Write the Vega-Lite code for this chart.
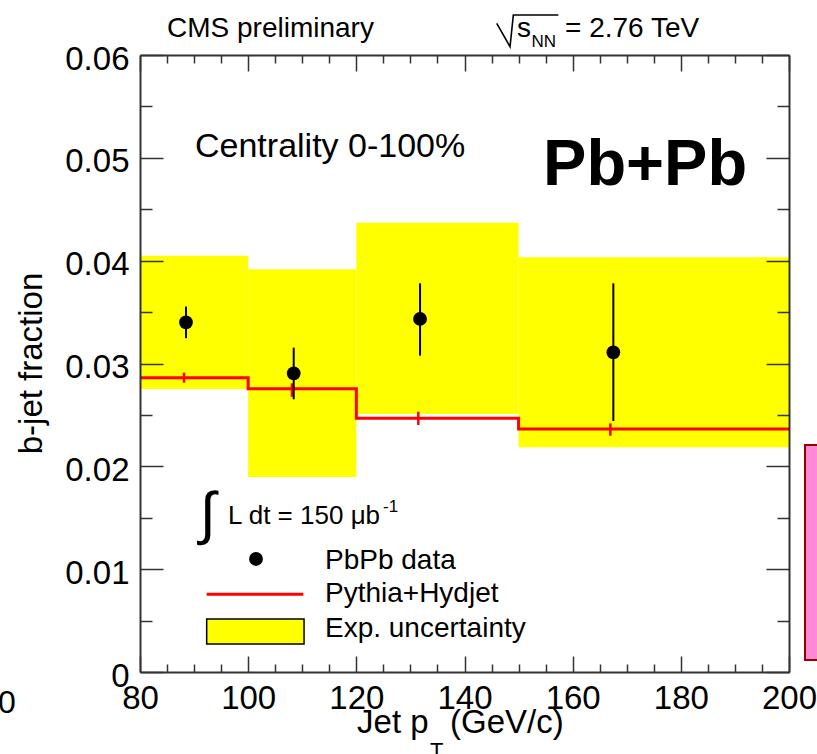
{
  "$schema": "https://vega.github.io/schema/vega-lite/v6.json",
  "width": 649,
  "height": 617,
  "autosize": {"type": "none"},
  "padding": {"left": 140, "top": 55, "right": 28, "bottom": 82},
  "background": "white",
  "config": {"view": {"stroke": null}, "font": "Liberation Sans", "text": {"font": "Liberation Sans", "color": "#000"}},
  "resolve": {"axis": {"x": "independent", "y": "independent"}},
  "datasets": {
    "bins": [
      {"x": 80, "x2": 100, "lo": 0.02752, "hi": 0.04048},
      {"x": 100, "x2": 120, "lo": 0.01896, "hi": 0.03916},
      {"x": 120, "x2": 150, "lo": 0.02509, "hi": 0.04369},
      {"x": 150, "x2": 200, "lo": 0.02185, "hi": 0.04033}
    ],
    "mc": [
      {"x": 80, "y": 0.02862},
      {"x": 100, "y": 0.02755},
      {"x": 120, "y": 0.02467},
      {"x": 150, "y": 0.02363},
      {"x": 200, "y": 0.02363}
    ],
    "mcerr": [
      {"x": 88.14, "lo": 0.02813, "hi": 0.02911},
      {"x": 108.1, "lo": 0.02677, "hi": 0.02807},
      {"x": 131.46, "lo": 0.02402, "hi": 0.02531},
      {"x": 166.97, "lo": 0.02298, "hi": 0.02418}
    ],
    "pts": [
      {"x": 88.5, "y": 0.034, "lo": 0.03246, "hi": 0.03554},
      {"x": 108.42, "y": 0.02905, "lo": 0.02652, "hi": 0.03154},
      {"x": 131.78, "y": 0.03433, "lo": 0.03076, "hi": 0.0378},
      {"x": 167.52, "y": 0.03109, "lo": 0.02441, "hi": 0.0378}
    ]
  },
  "layer": [
    {
      "data": {"name": "bins"},
      "mark": {"type": "rect", "color": "#ffff00"},
      "encoding": {
        "x": {"field": "x", "type": "quantitative", "scale": {"domain": [80, 200], "nice": false, "zero": false},
          "axis": {"orient": "bottom", "values": [80, 100, 120, 140, 160, 180, 200], "format": "d", "ticks": false, "labels": true, "domain": true, "domainColor": "#333", "domainWidth": 2, "labelFont": "Liberation Sans", "labelFontSize": 33, "labelColor": "#000", "labelPadding": 10, "labelFlush": false, "labelOverlap": false, "grid": false, "title": null, "zindex": 1}},
        "x2": {"field": "x2"},
        "y": {"field": "lo", "type": "quantitative", "scale": {"domain": [0, 0.06], "nice": false, "zero": false},
          "axis": {"orient": "left", "values": [0, 0.01, 0.02, 0.03, 0.04, 0.05, 0.06], "format": "~g", "ticks": false, "labels": true, "domain": true, "domainColor": "#333", "domainWidth": 2, "labelFont": "Liberation Sans", "labelFontSize": 33, "labelColor": "#000", "labelPadding": 11, "labelOffset": 4, "labelFlush": false, "labelOverlap": false, "grid": false, "title": null, "zindex": 1}},
        "y2": {"field": "hi"}
      }
    },
    {
      "data": {"name": "mc"},
      "mark": {"type": "line", "interpolate": "step-after", "color": "#ff0000", "strokeWidth": 3},
      "encoding": {
        "x": {"field": "x", "type": "quantitative", "scale": {"domain": [80, 200], "nice": false, "zero": false},
          "axis": {"orient": "bottom", "values": [80, 100, 120, 140, 160, 180, 200], "ticks": true, "tickSize": -16, "tickColor": "#333", "tickWidth": 1.5, "labels": false, "domain": false, "grid": false, "title": null, "zindex": 1}},
        "y": {"field": "y", "type": "quantitative", "scale": {"domain": [0, 0.06], "nice": false, "zero": false},
          "axis": {"orient": "left", "values": [0, 0.01, 0.02, 0.03, 0.04, 0.05, 0.06], "ticks": true, "tickSize": -23, "tickColor": "#333", "tickWidth": 1.5, "labels": false, "domain": false, "grid": false, "title": null, "zindex": 1}}
      }
    },
    {
      "data": {"name": "mcerr"},
      "mark": {"type": "rule", "color": "#ff0000", "strokeWidth": 2.5},
      "encoding": {
        "x": {"field": "x", "type": "quantitative", "scale": {"domain": [80, 200], "nice": false, "zero": false},
          "axis": {"orient": "bottom", "values": [85, 90, 95, 105, 110, 115, 125, 130, 135, 145, 150, 155, 165, 170, 175, 185, 190, 195], "ticks": true, "tickSize": -8, "tickColor": "#333", "tickWidth": 1.5, "labels": false, "domain": false, "grid": false, "title": null, "zindex": 1}},
        "y": {"field": "lo", "type": "quantitative", "scale": {"domain": [0, 0.06], "nice": false, "zero": false},
          "axis": {"orient": "left", "values": [0.005, 0.015, 0.025, 0.035, 0.045, 0.055], "ticks": true, "tickSize": -12, "tickColor": "#333", "tickWidth": 1.5, "labels": false, "domain": false, "grid": false, "title": null, "zindex": 1}},
        "y2": {"field": "hi"}
      }
    },
    {
      "data": {"name": "pts"},
      "mark": {"type": "rule", "color": "#000", "strokeWidth": 2},
      "encoding": {
        "x": {"field": "x", "type": "quantitative", "scale": {"domain": [80, 200], "nice": false, "zero": false},
          "axis": {"orient": "top", "values": [80, 100, 120, 140, 160, 180, 200], "ticks": true, "tickSize": -16, "tickColor": "#333", "tickWidth": 1.5, "labels": false, "domain": true, "domainColor": "#333", "domainWidth": 2, "grid": false, "title": null, "zindex": 1}},
        "y": {"field": "lo", "type": "quantitative", "scale": {"domain": [0, 0.06], "nice": false, "zero": false},
          "axis": {"orient": "right", "values": [0, 0.01, 0.02, 0.03, 0.04, 0.05, 0.06], "ticks": true, "tickSize": -23, "tickColor": "#333", "tickWidth": 1.5, "labels": false, "domain": true, "domainColor": "#333", "domainWidth": 2, "grid": false, "title": null, "zindex": 1}},
        "y2": {"field": "hi"}
      }
    },
    {
      "data": {"name": "pts"},
      "mark": {"type": "circle", "color": "#000", "opacity": 1, "size": 190},
      "encoding": {
        "x": {"field": "x", "type": "quantitative", "scale": {"domain": [80, 200], "nice": false, "zero": false},
          "axis": {"orient": "top", "values": [85, 90, 95, 105, 110, 115, 125, 130, 135, 145, 150, 155, 165, 170, 175, 185, 190, 195], "ticks": true, "tickSize": -8, "tickColor": "#333", "tickWidth": 1.5, "labels": false, "domain": false, "grid": false, "title": null, "zindex": 1}},
        "y": {"field": "y", "type": "quantitative", "scale": {"domain": [0, 0.06], "nice": false, "zero": false},
          "axis": {"orient": "right", "values": [0.005, 0.015, 0.025, 0.035, 0.045, 0.055], "ticks": true, "tickSize": -12, "tickColor": "#333", "tickWidth": 1.5, "labels": false, "domain": false, "grid": false, "title": null, "zindex": 1}}
      }
    },
    {
      "data": {"values": [{"x": 202.96, "x2": 206, "lo": 0.001167, "hi": 0.022075}]},
      "mark": {"type": "rect", "fill": "#ff88d8", "stroke": "#990000", "strokeWidth": 2},
      "encoding": {
        "x": {"field": "x", "type": "quantitative", "scale": {"domain": [80, 200], "nice": false, "zero": false}, "axis": null},
        "x2": {"field": "x2"},
        "y": {"field": "lo", "type": "quantitative", "scale": {"domain": [0, 0.06], "nice": false, "zero": false}, "axis": null},
        "y2": {"field": "hi"}
      }
    },
    {
      "data": {"values": [{"x": 92.33, "x2": 110.33, "lo": 0.00272, "hi": 0.00515}]},
      "mark": {"type": "rect", "fill": "#ffff00", "stroke": "#000", "strokeWidth": 1.5},
      "encoding": {
        "x": {"field": "x", "type": "quantitative", "scale": {"domain": [80, 200], "nice": false, "zero": false}, "axis": null},
        "x2": {"field": "x2"},
        "y": {"field": "lo", "type": "quantitative", "scale": {"domain": [0, 0.06], "nice": false, "zero": false}, "axis": null},
        "y2": {"field": "hi"}
      }
    },
    {
      "data": {"values": [{"x": 92.33, "x2": 110.2, "y": 0.00757}]},
      "mark": {"type": "rule", "color": "#ff0000", "strokeWidth": 3},
      "encoding": {
        "x": {"field": "x", "type": "quantitative", "scale": {"domain": [80, 200], "nice": false, "zero": false}, "axis": null},
        "x2": {"field": "x2"},
        "y": {"field": "y", "type": "quantitative", "scale": {"domain": [0, 0.06], "nice": false, "zero": false}, "axis": null}
      }
    },
    {
      "data": {"values": [{"x": 101.45, "y": 0.01099}]},
      "mark": {"type": "circle", "color": "#000", "opacity": 1, "size": 190},
      "encoding": {
        "x": {"field": "x", "type": "quantitative", "scale": {"domain": [80, 200], "nice": false, "zero": false}, "axis": null},
        "y": {"field": "y", "type": "quantitative", "scale": {"domain": [0, 0.06], "nice": false, "zero": false}, "axis": null}
      }
    },
    {
      "data": {"values": [
        {"x": 145.96, "y": 0.063084, "o": 1},
        {"x": 148.42, "y": 0.060809, "o": 2},
        {"x": 149.03, "y": 0.063892, "o": 3},
        {"x": 157.35, "y": 0.063892, "o": 4}
      ]},
      "mark": {"type": "line", "color": "#000", "strokeWidth": 1.6},
      "encoding": {
        "x": {"field": "x", "type": "quantitative", "scale": {"domain": [80, 200], "nice": false, "zero": false}, "axis": null},
        "y": {"field": "y", "type": "quantitative", "scale": {"domain": [0, 0.06], "nice": false, "zero": false}, "axis": null},
        "order": {"field": "o"}
      }
    },
    {
      "data": {"values": [
        {"x": 84.99, "y": 0.06175, "t": "CMS preliminary"},
        {"x": 149.71, "y": 0.061723, "t": "s"},
        {"x": 158.59, "y": 0.061723, "t": "= 2.76 TeV"}
      ]},
      "mark": {"type": "text", "align": "left", "baseline": "alphabetic", "fontSize": 28, "font": "Liberation Sans"},
      "encoding": {
        "x": {"field": "x", "type": "quantitative", "scale": {"domain": [80, 200], "nice": false, "zero": false}, "axis": null},
        "y": {"field": "y", "type": "quantitative", "scale": {"domain": [0, 0.06], "nice": false, "zero": false}, "axis": null},
        "text": {"field": "t"}
      }
    },
    {
      "data": {"values": [
        {"x": 152.4, "y": 0.060809, "t": "NN"},
        {"x": 124.95, "y": 0.015589, "t": "-1"}
      ]},
      "mark": {"type": "text", "align": "left", "baseline": "alphabetic", "fontSize": 17, "font": "Liberation Sans"},
      "encoding": {
        "x": {"field": "x", "type": "quantitative", "scale": {"domain": [80, 200], "nice": false, "zero": false}, "axis": null},
        "y": {"field": "y", "type": "quantitative", "scale": {"domain": [0, 0.06], "nice": false, "zero": false}, "axis": null},
        "text": {"field": "t"}
      }
    },
    {
      "data": {"values": [{"x": 90.17, "y": 0.050083, "t": "Centrality 0-100%"}]},
      "mark": {"type": "text", "align": "left", "baseline": "alphabetic", "fontSize": 34, "font": "Liberation Sans"},
      "encoding": {
        "x": {"field": "x", "type": "quantitative", "scale": {"domain": [80, 200], "nice": false, "zero": false}, "axis": null},
        "y": {"field": "y", "type": "quantitative", "scale": {"domain": [0, 0.06], "nice": false, "zero": false}, "axis": null},
        "text": {"field": "t"}
      }
    },
    {
      "data": {"values": [{"x": 154.52, "y": 0.04736, "t": "Pb+Pb"}]},
      "mark": {"type": "text", "align": "left", "baseline": "alphabetic", "fontSize": 65, "fontWeight": "bold", "font": "Liberation Sans"},
      "encoding": {
        "x": {"field": "x", "type": "quantitative", "scale": {"domain": [80, 200], "nice": false, "zero": false}, "axis": null},
        "y": {"field": "y", "type": "quantitative", "scale": {"domain": [0, 0.06], "nice": false, "zero": false}, "axis": null},
        "text": {"field": "t"}
      }
    },
    {
      "data": {"values": [{"x": 91.09, "y": 0.01352, "t": "∫"}]},
      "mark": {"type": "text", "align": "left", "baseline": "alphabetic", "fontSize": 58, "font": "Liberation Sans"},
      "encoding": {
        "x": {"field": "x", "type": "quantitative", "scale": {"domain": [80, 200], "nice": false, "zero": false}, "axis": null},
        "y": {"field": "y", "type": "quantitative", "scale": {"domain": [0, 0.06], "nice": false, "zero": false}, "axis": null},
        "text": {"field": "t"}
      }
    },
    {
      "data": {"values": [{"x": 96.27, "y": 0.014393, "t": "L dt = 150 μb"}]},
      "mark": {"type": "text", "align": "left", "baseline": "alphabetic", "fontSize": 26, "font": "Liberation Sans"},
      "encoding": {
        "x": {"field": "x", "type": "quantitative", "scale": {"domain": [80, 200], "nice": false, "zero": false}, "axis": null},
        "y": {"field": "y", "type": "quantitative", "scale": {"domain": [0, 0.06], "nice": false, "zero": false}, "axis": null},
        "text": {"field": "t"}
      }
    },
    {
      "data": {"values": [
        {"x": 114.2, "y": 0.00999, "t": "PbPb data"},
        {"x": 114.2, "y": 0.00684, "t": "Pythia+Hydjet"},
        {"x": 114.2, "y": 0.00337, "t": "Exp. uncertainty"}
      ]},
      "mark": {"type": "text", "align": "left", "baseline": "alphabetic", "fontSize": 28, "font": "Liberation Sans"},
      "encoding": {
        "x": {"field": "x", "type": "quantitative", "scale": {"domain": [80, 200], "nice": false, "zero": false}, "axis": null},
        "y": {"field": "y", "type": "quantitative", "scale": {"domain": [0, 0.06], "nice": false, "zero": false}, "axis": null},
        "text": {"field": "t"}
      }
    },
    {
      "data": {"values": [
        {"x": 120.13, "y": -0.005932, "t": "Jet p"},
        {"x": 137.32, "y": -0.005932, "t": "(GeV/c)"}
      ]},
      "mark": {"type": "text", "align": "left", "baseline": "alphabetic", "fontSize": 33, "font": "Liberation Sans"},
      "encoding": {
        "x": {"field": "x", "type": "quantitative", "scale": {"domain": [80, 200], "nice": false, "zero": false}, "axis": null},
        "y": {"field": "y", "type": "quantitative", "scale": {"domain": [0, 0.06], "nice": false, "zero": false}, "axis": null},
        "text": {"field": "t"}
      }
    },
    {
      "data": {"values": [{"x": 133.62, "y": -0.008363, "t": "T"}]},
      "mark": {"type": "text", "align": "left", "baseline": "alphabetic", "fontSize": 22, "font": "Liberation Sans"},
      "encoding": {
        "x": {"field": "x", "type": "quantitative", "scale": {"domain": [80, 200], "nice": false, "zero": false}, "axis": null},
        "y": {"field": "y", "type": "quantitative", "scale": {"domain": [0, 0.06], "nice": false, "zero": false}, "axis": null},
        "text": {"field": "t"}
      }
    },
    {
      "data": {"values": [{"x": 61.88, "y": 0.03, "t": "b-jet fraction"}]},
      "mark": {"type": "text", "align": "center", "baseline": "alphabetic", "angle": 270, "fontSize": 33, "font": "Liberation Sans"},
      "encoding": {
        "x": {"field": "x", "type": "quantitative", "scale": {"domain": [80, 200], "nice": false, "zero": false}, "axis": null},
        "y": {"field": "y", "type": "quantitative", "scale": {"domain": [0, 0.06], "nice": false, "zero": false}, "axis": null},
        "text": {"field": "t"}
      }
    },
    {
      "data": {"values": [{"x": 55.41, "y": -0.003987, "t": "0"}]},
      "mark": {"type": "text", "align": "center", "baseline": "alphabetic", "fontSize": 32, "font": "Liberation Sans"},
      "encoding": {
        "x": {"field": "x", "type": "quantitative", "scale": {"domain": [80, 200], "nice": false, "zero": false}, "axis": null},
        "y": {"field": "y", "type": "quantitative", "scale": {"domain": [0, 0.06], "nice": false, "zero": false}, "axis": null},
        "text": {"field": "t"}
      }
    }
  ]
}
